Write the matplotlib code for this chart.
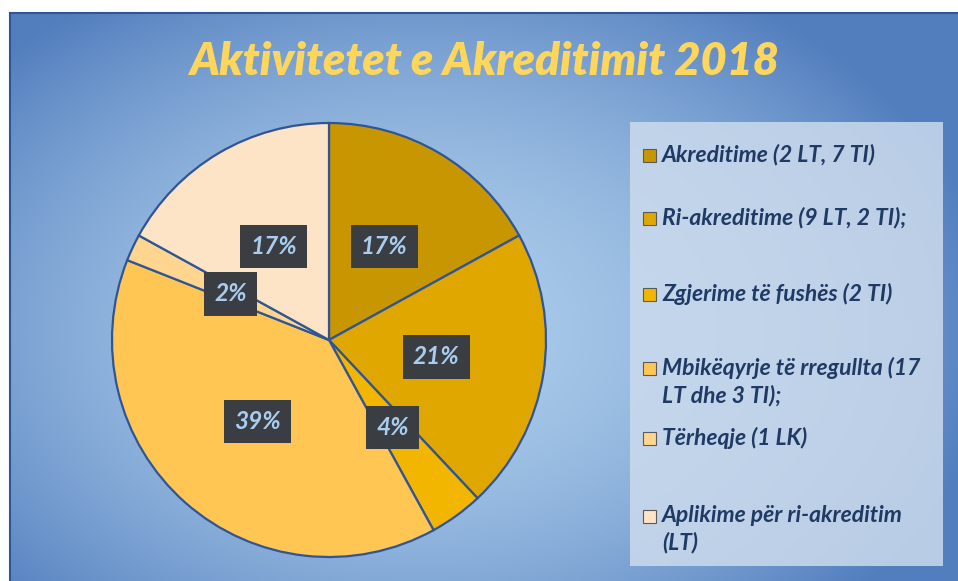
import numpy as np
import matplotlib
matplotlib.use("Agg")
import matplotlib.pyplot as plt
from matplotlib.patches import Rectangle

# ---- data ----
title = "Aktivitetet e Akreditimit 2018"
categories = [
    "Akreditime (2 LT, 7 TI)",
    "Ri-akreditime (9 LT, 2 TI);",
    "Zgjerime të fushës (2 TI)",
    "Mbikëqyrje të rregullta (17\nLT dhe 3 TI);",
    "Tërheqje (1 LK)",
    "Aplikime për ri-akreditim\n(LT)",
]
values = [17, 21, 4, 39, 2, 17]
colors = ["#c89600", "#e0a700", "#f2b600", "#ffc654", "#ffd590", "#fde4c6"]

W, H = 958, 581
fig = plt.figure(figsize=(W / 100, H / 100), dpi=100)
fig.patch.set_facecolor("white")

# ---- background gradient (chart area) ----
bg = fig.add_axes([0, 0, 1, 1], zorder=0)
bg.set_xlim(0, W)
bg.set_ylim(H, 0)
bg.axis("off")
x0, y0 = 10, 12
xs = np.linspace(x0, W, 400)
ys = np.linspace(y0, H, 250)
X, Y = np.meshgrid(xs, ys)
cx, cy = 420, 330
d = np.sqrt(((X - cx) / 580) ** 2 + ((Y - cy) / 400) ** 2)
d = np.clip(d, 0, 1)
c_in = np.array([170, 203, 234]) / 255
c_out = np.array([82, 126, 190]) / 255
t = d ** 1.8
img = c_in[None, None, :] * (1 - t[..., None]) + c_out[None, None, :] * t[..., None]
bg.imshow(img, extent=[x0, W, H, y0], aspect="auto", interpolation="bilinear")
bg.plot([x0, x0], [H, y0 + 0.5], color="#2f5597", lw=1.5)
bg.plot([x0, W], [y0 + 0.5, y0 + 0.5], color="#2f5597", lw=1.5)

# legend box
lx, ly, lw_, lh = 630, 122, 313, 444
bg.add_patch(Rectangle((lx, ly), lw_, lh, facecolor=(0.80, 0.86, 0.93), alpha=0.85,
                       edgecolor="none", zorder=2))

# title
bg.text(484, 62, title, ha="center", va="center", fontsize=32.5, fontfamily="Lato",
        fontweight="heavy", fontstyle="italic", color="#ffd65c", zorder=3)

# legend entries
ypos = [155, 218, 294, 368, 438, 516]
for cat, col, yy in zip(categories, colors, ypos):
    bg.add_patch(Rectangle((643, yy - 6), 13, 13, facecolor=col, edgecolor="#5a5a5a",
                           lw=0.8, zorder=3))
    bg.text(662, yy - 11, cat, ha="left", va="top", fontsize=16.5, fontfamily="Lato",
            fontweight="bold", fontstyle="italic", color="#1f3a64", zorder=3,
            linespacing=1.3)

# ---- pie ----
r = 217
pcx, pcy = 329, 340
ax = fig.add_axes([(pcx - r) / W, (H - pcy - r) / H, 2 * r / W, 2 * r / H], zorder=1)
ax.patch.set_alpha(0)
wedges, texts, autotexts = ax.pie(
    values, colors=colors, startangle=90, counterclock=False,
    wedgeprops=dict(edgecolor="#2f5597", linewidth=1.6),
    autopct=lambda p: f"{p:.0f}%", pctdistance=0.5,
)
for at in autotexts:
    at.set_fontfamily("Lato")
    at.set_fontweight("bold")
    at.set_fontstyle("italic")
    at.set_fontsize(17.5)
    at.set_color("#a9cdef")
    at.set_bbox(dict(boxstyle="square,pad=0.42", facecolor="#3a3d42", edgecolor="none"))
ax.set_xlim(-1, 1)
ax.set_ylim(-1, 1)
ax.set_aspect("equal")
ax.axis("off")

fig.savefig("out.png", dpi=100)
